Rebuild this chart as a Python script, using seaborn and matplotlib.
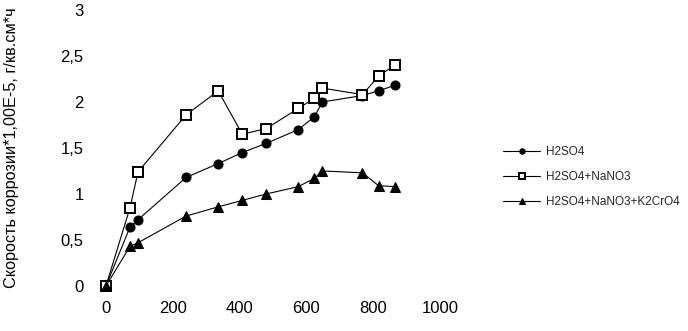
"""
Corrosion rate vs time in three acid solutions
"""

# Libraries
import pandas as pd
import seaborn as sns
import matplotlib.pyplot as plt

# Seaborn
sns.set_theme(style="white")
plt.rcParams['font.family'] = ['Liberation Sans', 'DejaVu Sans']

# ---------------------------------
# Data
# ---------------------------------
time_h = [0, 72, 96, 240, 336, 408, 480, 576, 624, 648, 768, 816, 864]

h2so4 = [0, 0.64, 0.72, 1.18, 1.33, 1.45, 1.55, 1.70, 1.84, 2.00, 2.07, 2.12, 2.18]
h2so4_nano3 = [0, 0.85, 1.24, 1.86, 2.12, 1.65, 1.71, 1.93, 2.04, 2.15, 2.08, 2.28, 2.40]
h2so4_nano3_k2cro4 = [0, 0.43, 0.47, 0.76, 0.86, 0.93, 1.00, 1.08, 1.17, 1.25, 1.23, 1.09, 1.08]

labels = ['H2SO4', 'H2SO4+NaNO3', 'H2SO4+NaNO3+K2CrO4']
ylabel = 'Скорость коррозии*1,00E-5, г/кв.см*ч'

data = pd.DataFrame({'time': time_h,
                     labels[0]: h2so4,
                     labels[1]: h2so4_nano3,
                     labels[2]: h2so4_nano3_k2cro4})

# Marker styles per series
styles = {labels[0]: dict(marker='o', markersize=6.5, markerfacecolor='black'),
          labels[1]: dict(marker='s', markersize=7, markerfacecolor='white',
                          markeredgewidth=1.4),
          labels[2]: dict(marker='^', markersize=7, markerfacecolor='black')}

# ---------------------------------
# Plot
# ---------------------------------
f = plt.figure(figsize=(6.88, 3.31), dpi=100)
ax = f.add_axes([0.154, 0.136, 0.4855, 0.834])

for name in labels:
    sns.lineplot(x=data.time, y=data[name], ax=ax, color='black',
                 linewidth=0.8, markeredgecolor='black', clip_on=False,
                 label=name, **styles[name])

ax.set_xlim(0, 1000)
ax.set_ylim(0, 3)
ax.set_xticks([0, 200, 400, 600, 800, 1000])
ax.set_yticks([0, 0.5, 1, 1.5, 2, 2.5, 3])
ax.set_yticklabels(['0', '0,5', '1', '1,5', '2', '2,5', '3'])
ax.tick_params(axis='x', length=0, pad=11, labelsize=12, labelcolor='black')
ax.tick_params(axis='y', length=0, pad=16, labelsize=12, labelcolor='black')
ax.set_xlabel('')
ax.set_ylabel(ylabel, fontsize=11.7, color='black')
ax.yaxis.set_label_coords(-0.26, 0.5)
sns.despine(left=True, bottom=True)

# Legend on the right
ax.legend(loc='center left', bbox_to_anchor=(0.722, 0.465),
          bbox_transform=f.transFigure, frameon=False, fontsize=8.5,
          borderpad=0, handlelength=3.2, handletextpad=0.45,
          labelspacing=1.1, markerscale=0.6)

f.savefig('out.png', dpi=100)
